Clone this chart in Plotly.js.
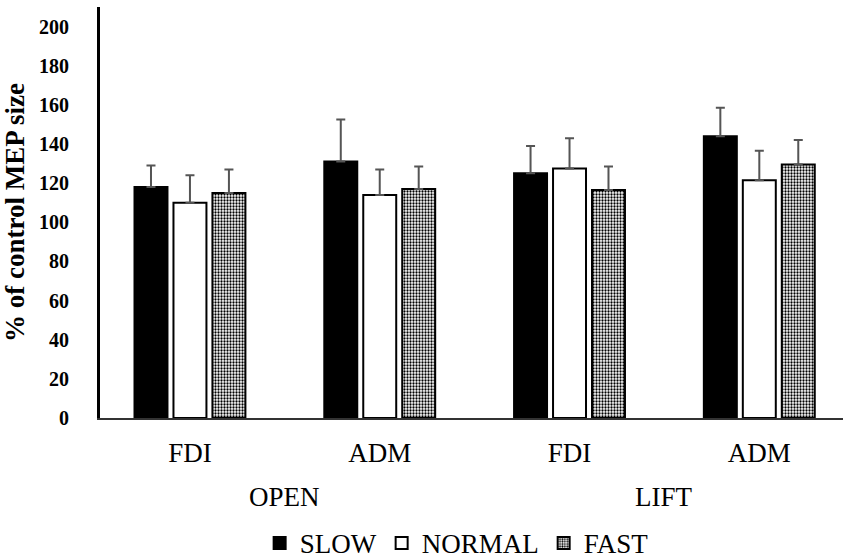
<!DOCTYPE html>
<html>
<head>
<meta charset="utf-8">
<script src="https://cdn.plot.ly/plotly-3.0.1.min.js"></script>
<style>html,body{margin:0;padding:0;background:#fff;}#chart{width:850px;height:559px;}</style>
</head>
<body>
<div id="chart"></div>
<script>
// Data
const categories = ['FDI', 'ADM', 'FDI ', 'ADM '];
const tickLabels = ['FDI', 'ADM', 'FDI', 'ADM'];
const groupLabels = ['OPEN', 'LIFT'];
const groupCenters = [0.5, 2.5];
const seriesNames = ['SLOW', 'NORMAL', 'FAST'];
const slowValues = [118, 131, 125, 144];
const slowErr = [11, 21.5, 14, 14.5];
const normalValues = [110, 114, 127.5, 121.5];
const normalErr = [14, 13, 15.5, 15];
const fastValues = [115, 117, 116.5, 129.5];
const fastErr = [12, 11.5, 12, 12.5];
const yTicks = [0, 20, 40, 60, 80, 100, 120, 140, 160, 180, 200];

const serif = '"Liberation Serif", "Times New Roman", serif';
const errStyle = (arr) => ({
  type: 'data', symmetric: false, array: arr, arrayminus: arr.map(() => 0),
  color: '#555555', thickness: 2, width: 4.5
});

const traces = [
  { type: 'bar', name: seriesNames[0], x: categories, y: slowValues,
    marker: { color: '#000000', line: { color: '#000000', width: 2 } },
    error_y: errStyle(slowErr) },
  { type: 'bar', name: seriesNames[1], x: categories, y: normalValues,
    marker: { color: '#ffffff', line: { color: '#000000', width: 2 } },
    error_y: errStyle(normalErr) },
  { type: 'bar', name: seriesNames[2], x: categories, y: fastValues,
    marker: { color: '#ffffff', line: { color: '#000000', width: 2 },
      pattern: { shape: '.', fgcolor: '#000000', bgcolor: '#ffffff', size: 3, solidity: 0.45 } },
    error_y: errStyle(fastErr) }
];

const annotations = groupLabels.map((g, i) => ({
  text: g, x: groupCenters[i], xref: 'x',
  y: -0.193, yref: 'paper', yanchor: 'middle', showarrow: false,
  font: { family: serif, size: 27, color: '#000' }
}));

const layout = {
  width: 850, height: 559,
  margin: { l: 100, r: 7, t: 7, b: 141, autoexpand: false },
  paper_bgcolor: '#ffffff', plot_bgcolor: '#ffffff',
  barmode: 'group', bargap: 0.384, bargroupgap: 0.154,
  showlegend: true,
  legend: { orientation: 'h', x: 0.48, xanchor: 'center', y: -0.305, yanchor: 'middle',
    font: { family: serif, size: 27, color: '#000' }, itemwidth: 30, tracegroupgap: 0 },
  xaxis: {
    type: 'category', range: [-0.474, 3.441],
    tickmode: 'array', tickvals: categories, ticktext: tickLabels,
    showline: true, linecolor: '#333333', linewidth: 2,
    ticks: '', showgrid: false, zeroline: false,
    tickfont: { family: serif, size: 27, color: '#000' },
    ticklabelstandoff: 10
  },
  yaxis: {
    range: [0, 210], tickmode: 'array', tickvals: yTicks,
    showline: true, linecolor: '#000000', linewidth: 3,
    ticks: '', showgrid: false, zeroline: false,
    tickfont: { family: serif, size: 20, color: '#000', weight: 'bold' },
    ticklabelstandoff: 24,
    title: { text: '% of control MEP size', font: { family: serif, size: 27, color: '#000', weight: 'bold' }, standoff: 10 }
  },
  annotations: annotations
};

Plotly.newPlot('chart', traces, layout, { displayModeBar: false, staticPlot: true });
</script>
</body>
</html>
